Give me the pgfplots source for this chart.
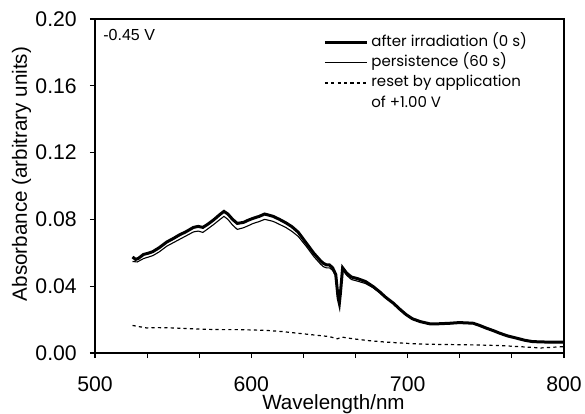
\documentclass[border=0pt]{standalone}
\usepackage{pgfplots}
\pgfplotsset{compat=1.18}
\usepackage{fontspec}
\setmainfont{Liberation Sans}
\newfontfamily\geo{Poppins}
\pgfplotstableread{
x y
524 0.0575
526 0.0560
528 0.0568
531 0.0590
534 0.0597
537 0.0607
541 0.0630
546 0.0665
550 0.0685
554 0.0707
558 0.0725
563 0.0752
566 0.0758
569 0.0752
572 0.0770
576 0.0798
580 0.0830
582.5 0.0848
585 0.0832
588 0.0800
591 0.0776
595 0.0782
598 0.0795
601 0.0806
605 0.0818
608.5 0.0832
611 0.0826
614 0.0818
618 0.0800
622 0.0780
626 0.0756
630 0.0723
635 0.0660
640 0.0597
644 0.0555
646 0.0537
648 0.0528
650 0.0527
652 0.0510
654 0.0470
655.5 0.0330
656.3 0.0297
657 0.0360
658.4 0.0510
660 0.0490
661 0.0478
664 0.0455
668 0.0445
673 0.0428
678 0.0397
682 0.0367
686 0.0333
691 0.0297
695 0.0262
699 0.0230
703 0.0205
708 0.0188
714 0.0175
720 0.0175
727 0.0178
733 0.0182
738 0.0180
742 0.0178
746 0.0165
750 0.0150
755 0.0133
759 0.0118
764 0.0102
770 0.0088
775 0.0076
780 0.0068
790 0.0065
800 0.0065
}\irrad
\pgfplotstableread{
x y
524 0.0548
527 0.0545
531 0.0565
537 0.0583
541 0.0605
546 0.0640
550 0.0660
554 0.0680
558 0.0700
563 0.0725
566 0.0730
569 0.0722
572 0.0742
576 0.0770
580 0.0800
582.5 0.0818
585 0.0800
588 0.0766
591 0.0740
595 0.0750
598 0.0762
601 0.0775
605 0.0787
608.5 0.0800
611 0.0795
614 0.0788
618 0.0770
622 0.0752
626 0.0728
630 0.0698
635 0.0640
640 0.0577
644 0.0535
646 0.0517
648 0.0510
650 0.0510
652 0.0495
654 0.0460
655.5 0.0340
656.3 0.0310
657 0.0370
658.4 0.0495
660 0.0478
661 0.0465
664 0.0440
668 0.0430
673 0.0416
678 0.0390
682 0.0362
686 0.0330
691 0.0295
695 0.0260
699 0.0228
703 0.0203
708 0.0186
714 0.0173
720 0.0173
727 0.0176
733 0.0180
738 0.0178
742 0.0176
746 0.0163
750 0.0148
755 0.0131
759 0.0116
764 0.0100
770 0.0086
775 0.0074
780 0.0066
790 0.0063
800 0.0063
}\persist
\pgfplotstableread{
x y
524 0.0165
528 0.0158
533 0.0150
540 0.0152
550 0.0150
560 0.0146
570 0.0142
580 0.0140
590 0.0140
600 0.0138
610 0.0135
620 0.0128
630 0.0118
640 0.0108
650 0.0098
655 0.0085
658 0.0095
665 0.0085
675 0.0074
685 0.0066
695 0.0060
705 0.0055
715 0.0052
730 0.0050
745 0.0048
760 0.0044
775 0.0036
785 0.0030
792 0.0034
800 0.0038
}\reset
\begin{document}
\begin{tikzpicture}
\begin{axis}[
  name=ax,
  scale only axis,
  width=234.5pt, height=167pt,
  xmin=500, xmax=800, ymin=0, ymax=0.2,
  xtick={500,600,700,800},
  minor x tick num=2,
  ytick={0,0.04,0.08,0.12,0.16,0.2},
  yticklabel style={anchor=east, xshift=-3pt, /pgf/number format/.cd, fixed, fixed zerofill, precision=2},
  /pgf/number format/assume math mode=true,
  scaled y ticks=false,
  tick align=outside,
  xtick pos=bottom, ytick pos=left,
  major tick length=2.6pt, minor tick length=2.6pt,
  every tick/.style={black, line width=0.6pt},
  axis line style={line width=0.7pt},
  tick label style={font=\fontsize{10.6}{12}\selectfont},
  xticklabel style={anchor=base, yshift=-16.5pt},
  xlabel={Wavelength/nm},
  ylabel={Absorbance (arbitrary units)},
  every axis x label/.style={at={([yshift=-25.5pt]axis description cs:0.5085,0)}, anchor=center, font=\fontsize{10.3}{12}\selectfont},
  every axis y label/.style={at={([xshift=-36.75pt]axis description cs:0,0.536)}, rotate=90, anchor=center, font=\fontsize{10.3}{12}\selectfont},
  legend style={draw=none, fill=none, at={(axis description cs:0.4861,0.9587)}, anchor=north west,
    font=\geo\fontsize{7.5}{9}\selectfont, row sep=0.9pt, inner sep=0pt,
    nodes={inner xsep=1.5pt, inner ysep=0pt, text height=6.6pt, text depth=2.65pt}},
  legend cell align=left,
  legend image code/.code={\draw[#1] (0pt,0pt) -- (21pt,0pt);},
  clip=false,
]
\addplot[black, line width=1.5pt] table[x=x,y=y] {\irrad};
\addlegendentry{after irradiation (0 s)}
\addplot[black, line width=0.55pt] table[x=x,y=y] {\persist};
\addlegendentry{persistence (60 s)}
\addplot[black, line width=0.6pt, dash pattern=on 1.6pt off 1.6pt] table[x=x,y=y] {\reset};
\addlegendentry{reset by application}
\addlegendimage{empty legend}
\addlegendentry{of +1.00 V}
\node[anchor=west, font=\fontsize{8}{9}\selectfont, inner sep=0pt] at ([shift={(4pt,-8pt)}]axis description cs:0,1) {-0.45 V};
\end{axis}
\pgfresetboundingbox
\path ([shift={(-47.5pt,-30.5pt)}]ax.south west) rectangle ([shift={(10.5pt,9.5pt)}]ax.north east);
\end{tikzpicture}
\end{document}
